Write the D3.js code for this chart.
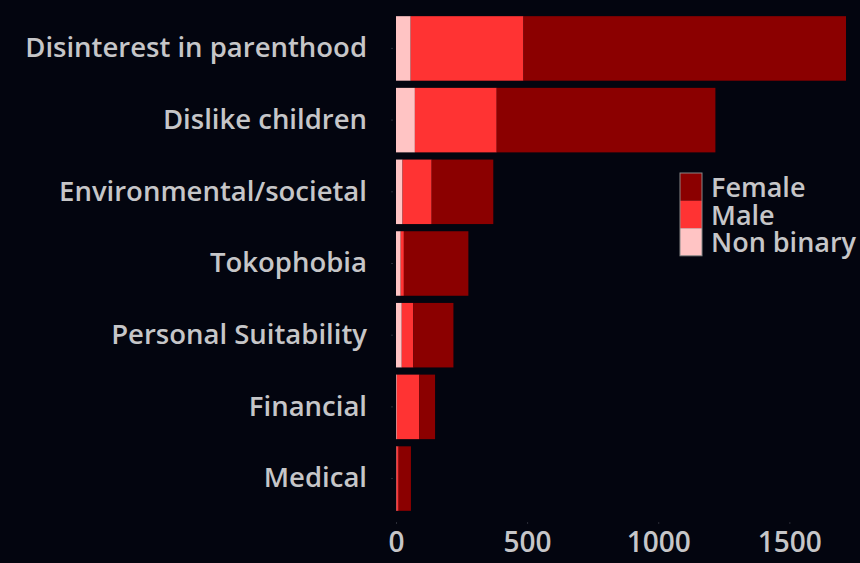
<!DOCTYPE html>
<html>
<head>
<meta charset="utf-8">
<script src="https://cdn.jsdelivr.net/npm/d3@7"></script>
<style>
  body { margin: 0; background: #03050f; }
  svg { display: block; }
</style>
</head>
<body>
<script>
var categories = ['Disinterest in parenthood', 'Dislike children', 'Environmental/societal',
                  'Tokophobia', 'Personal Suitability', 'Financial', 'Medical'];
var nonBinary = [56, 72, 25, 18, 22, 3, 2];
var male      = [430, 312, 111, 12, 44, 86, 8];
var female    = [1230, 834, 235, 246, 153, 60, 47];
var seriesNames = ['Non binary', 'Male', 'Female'];
var seriesColors = ['#ffc4c4', '#ff3333', '#8b0000'];
var xTicks = [0, 500, 1000, 1500];

var width = 860, height = 563;
var textColor = '#c6c6c8';
var font = '"Open Sans", Lato, sans-serif';

var svg = d3.select('body').append('svg')
  .attr('width', width)
  .attr('height', height);

svg.append('rect').attr('width', width).attr('height', height).attr('fill', '#03050f');

var x = d3.scaleLinear().domain([0, 1716]).range([396, 846]);
var y = d3.scaleBand().domain(categories).range([9, 518]).padding(0.1);

var rows = categories.map(function (c, i) {
  return { cat: c, 'Non binary': nonBinary[i], 'Male': male[i], 'Female': female[i] };
});
var stacked = d3.stack().keys(seriesNames)(rows);

svg.append('g')
  .selectAll('g')
  .data(stacked)
  .join('g')
  .attr('fill', function (d, i) { return seriesColors[i]; })
  .selectAll('rect')
  .data(function (d) { return d; })
  .join('rect')
  .attr('x', function (d) { return x(d[0]); })
  .attr('width', function (d) { return x(d[1]) - x(d[0]); })
  .attr('y', function (d) { return y(d.data.cat); })
  .attr('height', y.bandwidth());

// category axis
var yAxis = svg.append('g')
  .attr('transform', 'translate(' + 393 + ',0)')
  .call(d3.axisLeft(y).tickSize(2).tickPadding(24));
yAxis.select('.domain').remove();
yAxis.selectAll('line').attr('stroke', '#2a2c36');
yAxis.selectAll('text')
  .attr('fill', textColor)
  .style('font-family', font)
  .style('font-weight', 600)
  .style('font-size', '27.5px');

// value axis
var xAxis = svg.append('g')
  .attr('transform', 'translate(0,' + 522 + ')')
  .call(d3.axisBottom(x).tickValues(xTicks).tickFormat(d3.format('d')).tickSize(2).tickPadding(8));
xAxis.select('.domain').remove();
xAxis.selectAll('line').attr('stroke', '#2a2c36');
xAxis.selectAll('text')
  .attr('fill', textColor)
  .style('font-family', font)
  .style('font-weight', 600)
  .style('font-size', '28px');

// legend
var legendOrder = ['Female', 'Male', 'Non binary'];
var legend = svg.append('g').attr('transform', 'translate(680,173)');
var lg = legend.selectAll('g')
  .data(legendOrder)
  .join('g')
  .attr('transform', function (d, i) { return 'translate(0,' + (i * 27.6) + ')'; });
lg.append('rect')
  .attr('width', 22)
  .attr('height', 27.6)
  .attr('fill', function (d) { return seriesColors[seriesNames.indexOf(d)]; });
legend.append('rect')
  .attr('width', 22)
  .attr('height', 27.6 * 3)
  .attr('fill', 'none')
  .attr('stroke', '#888')
  .attr('stroke-width', 1);
lg.append('text')
  .attr('x', 31)
  .attr('y', 24)
  .attr('fill', textColor)
  .style('font-family', font)
  .style('font-weight', 600)
  .style('font-size', '27px')
  .text(function (d) { return d; });
</script>
</body>
</html>
